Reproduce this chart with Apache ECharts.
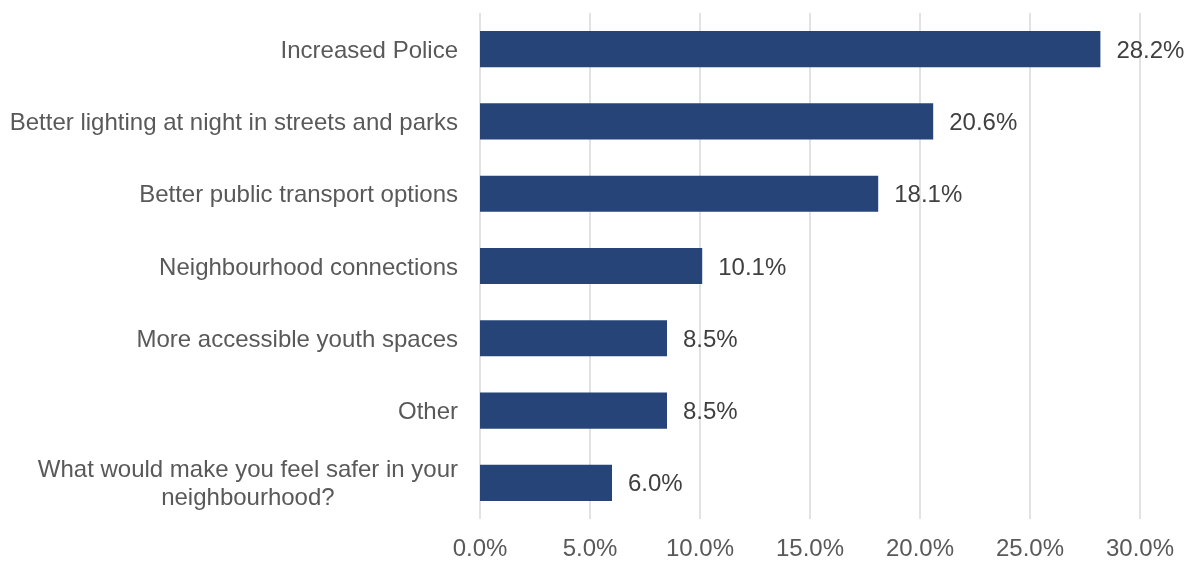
<!DOCTYPE html>
<html>
<head>
<meta charset="utf-8">
<script src="https://cdn.jsdelivr.net/npm/echarts@6/dist/echarts.min.js"></script>
<style>
  html, body { margin: 0; padding: 0; background: #fff; }
  #chart { width: 1194px; height: 561px; }
</style>
</head>
<body>
<div id="chart"></div>
<script>
// Survey responses, top to bottom
const categories = [
  'Increased Police',
  'Better lighting at night in streets and parks',
  'Better public transport options',
  'Neighbourhood connections',
  'More accessible youth spaces',
  'Other',
  'What would make you feel safer in your\nneighbourhood?'
];
const shares = [28.2, 20.6, 18.1, 10.1, 8.5, 8.5, 6.0];
const axisTicks = [0, 5, 10, 15, 20, 25, 30];

const FONT = '"Liberation Sans", Arial, sans-serif';
const SIZE = 24;

const chart = echarts.init(document.getElementById('chart'), null, { renderer: 'canvas' });
chart.setOption({
  animation: false,
  grid: { left: 480, right: 54, top: 13, bottom: 37, containLabel: false },
  xAxis: {
    type: 'value',
    min: axisTicks[0],
    max: axisTicks[axisTicks.length - 1],
    interval: axisTicks[1] - axisTicks[0],
    axisLine: { show: false },
    axisTick: { show: false },
    splitLine: { show: true, lineStyle: { color: '#d9d9d9', width: 1.5 } },
    axisLabel: {
      margin: 18,
      color: '#595959',
      fontFamily: FONT,
      fontSize: SIZE,
      formatter: v => v.toFixed(1) + '%'
    }
  },
  yAxis: {
    type: 'category',
    inverse: true,
    data: categories,
    axisLine: { show: false },
    axisTick: { show: false },
    splitLine: { show: false },
    axisLabel: {
      margin: 22,
      color: '#595959',
      fontFamily: FONT,
      fontSize: SIZE,
      lineHeight: 28,
      formatter: v => '{c|' + v + '}',
      rich: {
        c: {
          align: 'center',
          color: '#595959',
          fontFamily: FONT,
          fontSize: SIZE,
          lineHeight: 28,
          padding: [4, 0, 0, 0]
        }
      }
    }
  },
  series: [{
    type: 'bar',
    data: shares,
    barWidth: '50%',
    itemStyle: { color: '#264478' },
    label: {
      show: true,
      position: 'right',
      distance: 16,
      offset: [0, 2],
      color: '#404040',
      fontFamily: FONT,
      fontSize: SIZE,
      formatter: p => p.value.toFixed(1) + '%'
    }
  }]
});
</script>
</body>
</html>
